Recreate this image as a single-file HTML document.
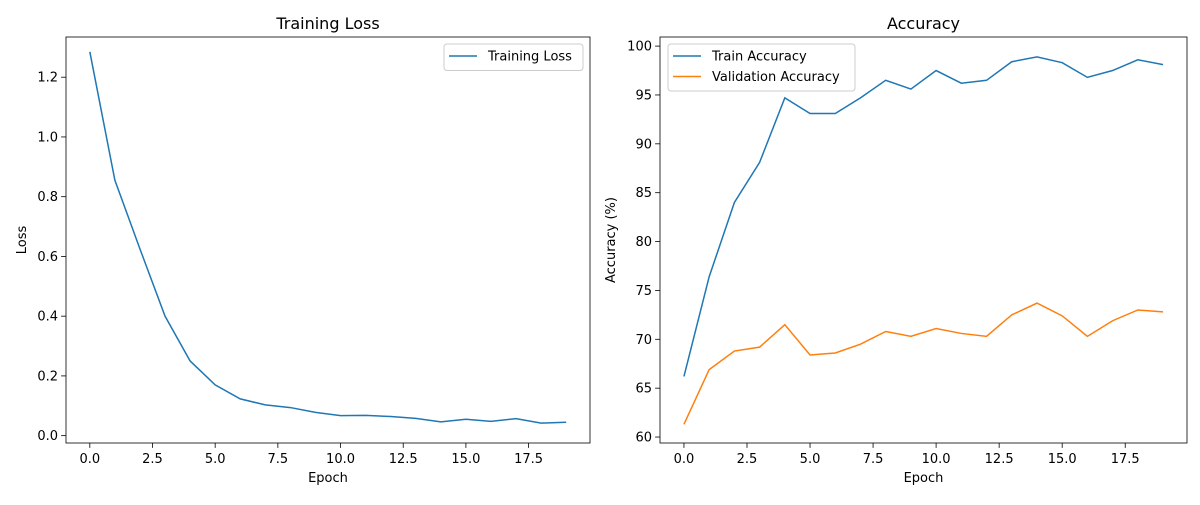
<!DOCTYPE html>
<html><head><meta charset="utf-8"><style>
body{margin:0;background:#fff;font-family:"Liberation Sans","DejaVu Sans",sans-serif;}
svg text{font-family:"DejaVu Sans","Liberation Sans",sans-serif;fill:#000;}
</style></head><body>
<svg id="c" width="1200" height="500" xmlns="http://www.w3.org/2000/svg"></svg>
<script>
const epochs=[0,1,2,3,4,5,6,7,8,9,10,11,12,13,14,15,16,17,18,19];
const lossVals=[1.285,0.855,0.625,0.40,0.25,0.17,0.123,0.103,0.094,0.078,0.067,0.068,0.064,0.058,0.046,0.055,0.048,0.057,0.042,0.045];
const trainAcc=[66.2,76.4,84.0,88.1,94.7,93.1,93.1,94.7,96.5,95.6,97.5,96.2,96.5,98.4,98.9,98.3,96.8,97.5,98.6,98.1];
const valAcc=[61.3,66.9,68.8,69.2,71.5,68.4,68.6,69.5,70.8,70.3,71.1,70.6,70.3,72.5,73.7,72.4,70.3,71.9,73.0,72.8];
const xTicks=[0,2.5,5,7.5,10,12.5,15,17.5];
const xTickLabels=["0.0","2.5","5.0","7.5","10.0","12.5","15.0","17.5"];
const lossTicks=[0,0.2,0.4,0.6,0.8,1.0,1.2];
const lossTickLabels=["0.0","0.2","0.4","0.6","0.8","1.0","1.2"];
const accTicks=[60,65,70,75,80,85,90,95,100];
const accTickLabels=["60","65","70","75","80","85","90","95","100"];

const svg=document.getElementById('c');
const NS="http://www.w3.org/2000/svg";
function el(tag,attrs,parent){const e=document.createElementNS(NS,tag);for(const k in attrs)e.setAttribute(k,attrs[k]);(parent||svg).appendChild(e);return e;}
function txt(s,attrs,parent){const t=el('text',attrs,parent);t.textContent=s;return t;}

function panel(o){
  const g=el('g',{});
  
  
  const sx=v=>o.x0+(v-o.xmin)/(o.xmax-o.xmin)*(o.x1-o.x0);
  const sy=v=>o.y1-(v-o.ymin)/(o.ymax-o.ymin)*(o.y1-o.y0);
  o.series.forEach(s=>{
    const p=el('polyline',{points:s.vals.map((v,i)=>sx(epochs[i])+','+sy(v)).join(' '),fill:'none',stroke:s.color,'stroke-width':1.5},g);
    
    
  });
  const fr=el('rect',{x:o.x0,y:o.y0,width:o.x1-o.x0,height:o.y1-o.y0,fill:'none',stroke:'#000','stroke-width':0.8},g);
  
  
  xTicks.forEach((t,i)=>{const x=sx(t);el('line',{x1:x,x2:x,y1:o.y1,y2:o.y1+4.9,stroke:'#000','stroke-width':0.8},g);
    const l=txt(xTickLabels[i],{x:x,y:o.y1+20,'font-size':13,'text-anchor':'middle'},g);
    
    });
  o.yTicks.forEach((t,i)=>{const y=sy(t);el('line',{x1:o.x0-4.9,x2:o.x0,y1:y,y2:y,stroke:'#000','stroke-width':0.8},g);
    const l=txt(o.yLabels[i],{x:o.x0-8,y:y+4.5,'font-size':13,'text-anchor':'end'},g);
    
    });
  const t=txt(o.title,{x:(o.x0+o.x1)/2,y:o.y0-8,'font-size':16,'text-anchor':'middle'},g);
  
  
  const xl=txt('Epoch',{x:(o.x0+o.x1)/2,y:o.y1+39,'font-size':13,'text-anchor':'middle'},g);
  
  
  const cy=(o.y0+o.y1)/2;
  const yl=txt(o.ylabel,{x:o.ylx,y:cy,'font-size':13,'text-anchor':'middle',transform:`rotate(-90 ${o.ylx} ${cy})`},g);
  
  
  const lg=el('g',{},g);
  
  
  el('rect',{x:o.lg.x,y:o.lg.y,width:o.lg.w,height:6+o.series.length*20.5,rx:3,fill:'#fff','fill-opacity':0.8,stroke:'#ccc'},lg);
  o.series.forEach((s,i)=>{const y=o.lg.y+12+i*20.5;
    el('line',{x1:o.lg.x+5,x2:o.lg.x+33,y1:y,y2:y,stroke:s.color,'stroke-width':1.5},lg);
    const e=txt(s.label,{x:o.lg.x+44,y:y+4.5,'font-size':13},lg);
    
    });
}
panel({name:'training-loss-chart',x0:66,x1:590,y0:37,y1:443,xmin:-0.95,xmax:19.95,ymin:-0.0246,ymax:1.3346,
  yTicks:lossTicks,yLabels:lossTickLabels,title:'Training Loss',ylabel:'Loss',ylx:26,
  lg:{x:444,y:44,w:139},series:[{id:'loss-line',label:'Training Loss',vals:lossVals,color:'#1f77b4'}]});
panel({name:'accuracy-chart',x0:660,x1:1187,y0:37,y1:443,xmin:-0.95,xmax:19.95,ymin:59.39,ymax:100.93,
  yTicks:accTicks,yLabels:accTickLabels,title:'Accuracy',ylabel:'Accuracy (%)',ylx:615,
  lg:{x:668,y:44,w:187},series:[{id:'train-accuracy-line',label:'Train Accuracy',vals:trainAcc,color:'#1f77b4'},
  {id:'validation-accuracy-line',label:'Validation Accuracy',vals:valAcc,color:'#ff7f0e'}]});
</script>
</body></html>
